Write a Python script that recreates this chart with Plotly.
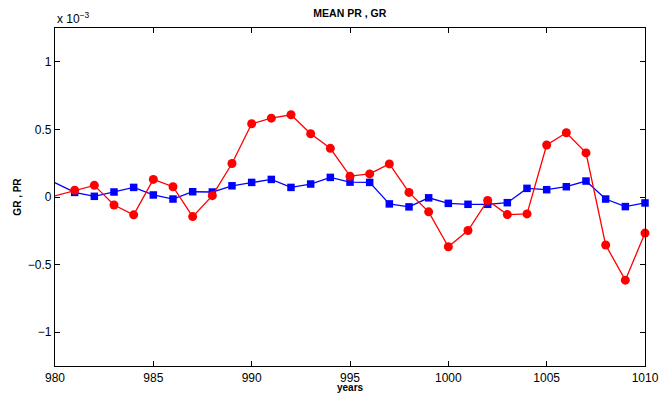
import plotly.graph_objects as go

# Values in units of 1e-3 (axis shows "x 10^-3"); first point (979) lies left of the axis range
years = [979] + list(range(981, 1011))
pr = [-0.03, 0.05, 0.086, -0.059, -0.132, 0.13, 0.076, -0.145, 0.01, 0.248,
      0.542, 0.583, 0.608, 0.468, 0.36, 0.154, 0.171, 0.245, 0.034, -0.11,
      -0.368, -0.248, -0.025, -0.13, -0.125, 0.385, 0.475, 0.326, -0.355, -0.615,
      -0.267]
gr = [0.176, 0.034, 0.005, 0.037, 0.071, 0.015, -0.015, 0.039, 0.037, 0.083,
      0.108, 0.13, 0.071, 0.096, 0.145, 0.11, 0.108, -0.051, -0.073, -0.006,
      -0.047, -0.054, -0.054, -0.042, 0.064, 0.054, 0.076, 0.118, -0.015, -0.071,
      -0.044]

xticks = [980, 985, 990, 995, 1000, 1005, 1010]
yticks = [-1, -0.5, 0, 0.5, 1]
ytick_text = ["\u22121", "\u22120.5", "0", "0.5", "1"]

FONT = "Liberation Sans, Arial, Helvetica, sans-serif"

msize_r = [0] + [9] * (len(years) - 1)
msize_b = [0] + [7.5] * (len(years) - 1)

fig = go.Figure()
fig.add_trace(go.Scatter(
    x=years, y=gr, mode="lines+markers", name="GR",
    line=dict(color="#0000ff", width=1.3),
    marker=dict(symbol="square", size=msize_b, color="#0000ff", opacity=1,
                line=dict(width=0)),
    cliponaxis=False,
))
fig.add_trace(go.Scatter(
    x=years, y=pr, mode="lines+markers", name="PR",
    line=dict(color="#ff0000", width=1.3),
    marker=dict(symbol="circle", size=msize_r, color="#ff0000", opacity=1,
                line=dict(width=0)),
    cliponaxis=False,
))

axis_common = dict(
    showgrid=False, zeroline=False, showline=True, linecolor="black",
    linewidth=1.3, mirror="ticks", ticks="inside", ticklen=5,
    tickcolor="black", tickwidth=1, automargin=False,
    tickfont=dict(family=FONT, size=12, color="black"),
)

fig.update_layout(
    width=660, height=394,
    margin=dict(l=55, r=15, t=28, b=28),
    paper_bgcolor="white", plot_bgcolor="white",
    showlegend=False,
    title=dict(text="<b>MEAN PR , GR</b>", x=0.53, xanchor="center",
               y=0.965, yanchor="middle",
               font=dict(family=FONT, size=10.5, color="black")),
    xaxis=dict(range=[980, 1010], tickvals=xticks, **axis_common),
    yaxis=dict(range=[-1.25, 1.25], tickvals=yticks, ticktext=ytick_text,
               **axis_common),
    annotations=[
        dict(text="x 10<sup>\u22123</sup>", xref="paper", yref="paper",
             x=0, y=1.0, xanchor="left", yanchor="bottom", showarrow=False,
             font=dict(family=FONT, size=12, color="black")),
        dict(text="<b>GR , PR</b>", xref="paper", yref="paper",
             x=-0.065, y=0.5, xanchor="center", yanchor="middle", textangle=-90,
             showarrow=False, font=dict(family=FONT, size=10, color="black")),
        dict(text="<b>years</b>", xref="paper", yref="paper",
             x=0.5, y=-0.0825, xanchor="center", yanchor="bottom",
             showarrow=False, borderpad=0,
             font=dict(family=FONT, size=10, color="black")),
    ],
)

fig.write_html("out.html")
